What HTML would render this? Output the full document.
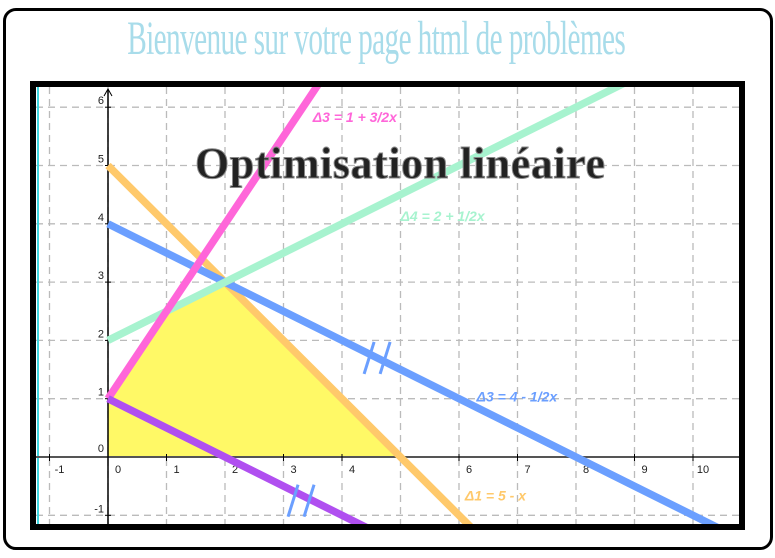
<!DOCTYPE html>
<html><head><meta charset="utf-8"><style>
html,body{margin:0;width:775px;height:558px;overflow:hidden}
body{background:#fff;font-family:"Liberation Sans",sans-serif;position:relative}
#card{position:absolute;left:3px;top:8px;width:764px;height:536px;border:3px solid #000;border-radius:13px;box-sizing:content-box}
#title{position:absolute;left:-32px;top:14px;width:775px;height:50px;line-height:50px;text-align:center;font-family:"Liberation Serif",serif;font-size:48px;color:#a8dcea;letter-spacing:-1px;white-space:nowrap}
#title span{display:inline-block;transform:scaleX(0.61)}
svg{position:absolute;left:0;top:0;display:block}
</style></head><body>
<div id="card"></div>
<div id="title"><span>Bienvenue sur votre page html de problèmes</span></div>
<svg width="775" height="558" id="chart"></svg>
<script>
const xTicks=[-1,0,1,2,3,4,6,7,8,9,10];
const yTicks=[-1,0,1,2,3,4,5,6];
const lineNames=['delta1','delta3-blue','delta4','delta3-pink','delta2-purple'];
const lineIntercepts=[5,4,2,1,1];
const lineSlopes=[-1,-0.5,0.5,1.5,-0.5];
const lineStarts=[0,0,0,0,0];
const lineColors=['#ffc96b','#6b9fff','#a7f3cf','#ff66d9','#b04ff0'];
const regionX=[0,0,1,2,5];
const regionY=[0,1,2.5,3,0];
const labels=[['Δ3 = 1 + 3/2x',3.5,5.75,'#ff66d9'],['Δ4 = 2 + 1/2x',5,4.05,'#a7f3cf'],['Δ3 = 4 - 1/2x',6.3,0.95,'#6b9fff'],['Δ1 = 5 - x',6.1,-0.75,'#ffc96b']];
const X=v=>108+v*58.5, Y=v=>457-v*58.3;
const s=document.getElementById('chart');
const NS='http://www.w3.org/2000/svg';
function mk(t,a,p){const e=document.createElementNS(NS,t);for(const k in a)e.setAttribute(k,a[k]);(p||s).appendChild(e);return e;}
mk('rect',{x:33,y:84,width:709,height:443,fill:'#fff',stroke:'#000','stroke-width':6});
const cp=mk('clipPath',{id:'c'});mk('rect',{x:36,y:87,width:703,height:437},cp);
const g=mk('g',{'clip-path':'url(#c)'});
for(let i=-1;i<=11;i++){const l=mk('line',{x1:X(i),x2:X(i),y1:87,y2:524,stroke:'#bbb','stroke-dasharray':'7,5','stroke-width':1.3},g);}
for(let j=-2;j<=7;j++){const l=mk('line',{x1:36,x2:739,y1:Y(j),y2:Y(j),stroke:'#bbb','stroke-dasharray':'7,5','stroke-width':1.3},g);}
mk('line',{x1:38,x2:38,y1:87,y2:524,stroke:'#3dd6e0','stroke-width':2},g);
const poly=mk('polygon',{points:regionX.map((x,i)=>X(x)+','+Y(regionY[i])).join(' '),fill:'#fff966'},g);


mk('line',{x1:36,x2:739,y1:Y(0),y2:Y(0),stroke:'#555','stroke-width':2},g);
mk('line',{x1:X(0),x2:X(0),y1:524,y2:90,stroke:'#000','stroke-width':1.5},g);
mk('path',{d:`M${X(0)-4},96 L${X(0)},89 L${X(0)+4},96`,fill:'none',stroke:'#000'},g);
xTicks.forEach(v=>{mk('line',{x1:X(v),x2:X(v),y1:Y(0)-3,y2:Y(0)+4,stroke:'#000'},g);const t=mk('text',{x:X(v)+10,y:Y(0)+16,'font-size':11,'text-anchor':'middle',fill:'#222'},g);t.textContent=v;});
yTicks.forEach(v=>{if(v===0)return;mk('line',{x1:X(0)-3,x2:X(0)+3,y1:Y(v),y2:Y(v),stroke:'#000'},g);const t=mk('text',{x:X(0)-4,y:Y(v)-3,'font-size':11,'text-anchor':'end',fill:'#222'},g);t.textContent=v;});
{const t=mk('text',{x:X(0)-4,y:Y(0)-5,'font-size':11,'text-anchor':'end',fill:'#222'},g);t.textContent='0';}
lineNames.forEach((n,i)=>{const x0=lineStarts[i],x1=12;const l=mk('line',{x1:X(x0),y1:Y(lineIntercepts[i]+lineSlopes[i]*x0),x2:X(x1),y2:Y(lineIntercepts[i]+lineSlopes[i]*x1),stroke:lineColors[i],'stroke-width':7.5},g);});
[[4.6,1.7],[3.3,-0.75]].forEach(([x,y])=>{[-8,8].forEach(d=>mk('line',{x1:X(x)+d-5,y1:Y(y)+16,x2:X(x)+d+5,y2:Y(y)-16,stroke:'#6b9fff','stroke-width':3},g));});
labels.forEach(([txt,x,y,c])=>{const t=mk('text',{x:X(x),y:Y(y),'font-size':14,'font-weight':'bold','font-style':'italic',fill:c},g);t.textContent=txt;});
const h=mk('text',{x:400,y:178,'font-size':44,'font-family':'Liberation Serif,serif','font-weight':'bold','text-anchor':'middle',fill:'#222',stroke:'#888','stroke-width':1,textLength:410},g);
h.textContent='Optimisation linéaire';


</script>
</body></html>
